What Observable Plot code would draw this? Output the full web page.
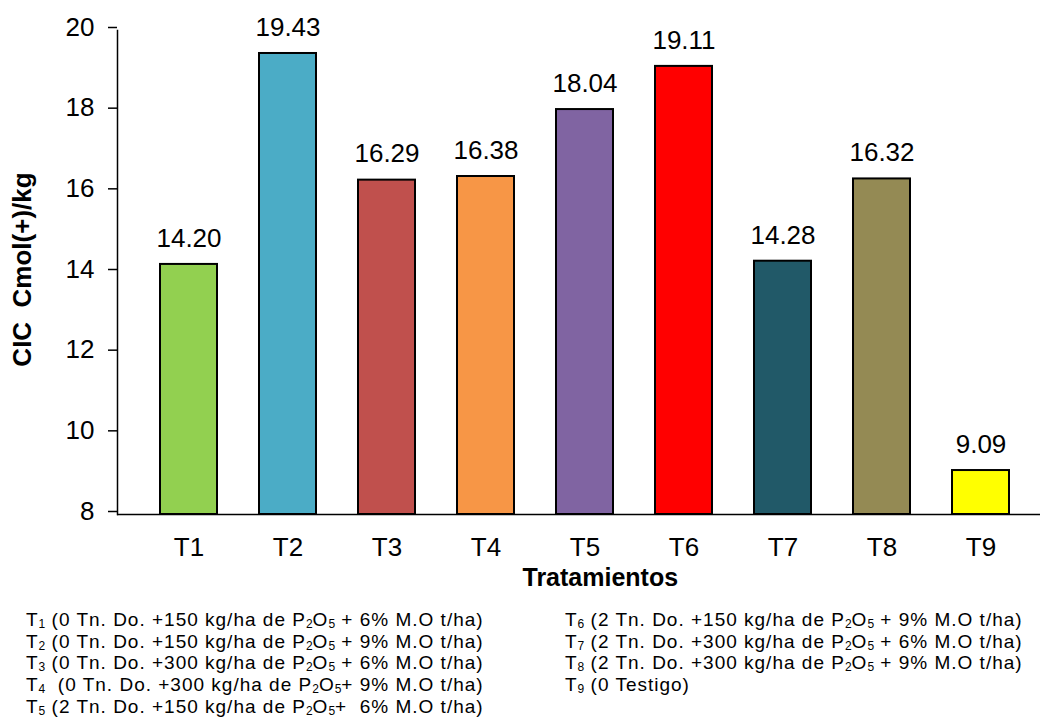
<!DOCTYPE html>
<html>
<head>
<meta charset="utf-8">
<script src="https://cdn.jsdelivr.net/npm/d3@7"></script>
<script src="https://cdn.jsdelivr.net/npm/@observablehq/plot@0.6"></script>
<style>
  body { margin: 0; background: #fff; font-family: "Liberation Sans", Arial, sans-serif; }
  #chart svg, #legend svg { display: block; }
</style>
</head>
<body>
<div id="chart"></div>
<div id="legend"></div>
<script>
const categories = ["T1","T2","T3","T4","T5","T6","T7","T8","T9"];
const values = [14.20, 19.43, 16.29, 16.38, 18.04, 19.11, 14.28, 16.32, 9.09];
const colors = ["#92d050","#4bacc6","#c0504d","#f79646","#8064a2","#ff0000","#215968","#948a54","#ffff00"];
const yTicks = [8, 10, 12, 14, 16, 18, 20];
const yLabel = "CIC\u00a0 Cmol(+)/kg";
const xLabel = "Tratamientos";
const legendLeft = [
  "T_1 (0 Tn. Do. +150 kg/ha de P_2O_5 + 6% M.O t/ha)",
  "T_2 (0 Tn. Do. +150 kg/ha de P_2O_5 + 9% M.O t/ha)",
  "T_3 (0 Tn. Do. +300 kg/ha de P_2O_5 + 6% M.O t/ha)",
  "T_4  (0 Tn. Do. +300 kg/ha de P_2O_5+ 9% M.O t/ha)",
  "T_5 (2 Tn. Do. +150 kg/ha de P_2O_5+  6% M.O t/ha)"
];
const legendRight = [
  "T_6 (2 Tn. Do. +150 kg/ha de P_2O_5 + 9% M.O t/ha)",
  "T_7 (2 Tn. Do. +300 kg/ha de P_2O_5 + 6% M.O t/ha)",
  "T_8 (2 Tn. Do. +300 kg/ha de P_2O_5 + 9% M.O t/ha)",
  "T_9 (0 Testigo)"
];

const data = categories.map((t, i) => ({t, v: values[i], c: colors[i]}));

const chart = Plot.plot({
  width: 1040,
  height: 600,
  marginLeft: 117,
  marginRight: 0,
  marginTop: 30,
  marginBottom: 86,
  style: {fontFamily: "Liberation Sans, Arial, sans-serif", color: "#000", overflow: "hidden"},
  x: {domain: categories, range: [118, 1051], padding: 0.42, axis: null},
  y: {domain: [8, 20], axis: null},
  marks: [
    Plot.barY(data, {x: "t", y1: 8, y2: "v", fill: "c", stroke: "#000", strokeWidth: 2}),
    Plot.ruleY([8], {stroke: "#000", strokeWidth: 1.5}),
    Plot.frame({anchor: "left", stroke: "#000", strokeWidth: 1.5}),
    Plot.axisY({ticks: yTicks, tickSize: 9, tickPadding: 14, fontSize: 26, dy: -3, tickFormat: d => d, strokeWidth: 1.5, label: null}),
    Plot.axisX({tickSize: 0, tickPadding: 23, fontSize: 26, label: null}),
    Plot.text(data, {x: "t", y: "v", text: d => d.v.toFixed(2), dy: -26, fontSize: 26, fill: "#000"}),
    Plot.text([xLabel], {frameAnchor: "bottom", dx: -56.5, dy: 71, textAnchor: "start", fontSize: 25, fontWeight: "bold", fill: "#000"}),
    Plot.text([yLabel], {frameAnchor: "left", dx: -95, dy: -3, rotate: -90, textAnchor: "middle", fontSize: 26, fontWeight: "bold", fill: "#000"})
  ]
});
document.getElementById("chart").appendChild(chart);

// Legend: one SVG text element per line, subscripts as shifted tspans
const svg = d3.select("#legend").append("svg")
  .attr("width", 1040).attr("height", 126)
  .style("font-family", "Liberation Sans, Arial, sans-serif")
  .style("font-size", "19px")
  .style("letter-spacing", "1px");

function addLine(str, x, y) {
  const t = svg.append("text").attr("x", x).attr("y", y).attr("fill", "#000")
    .attr("xml:space", "preserve").style("white-space", "pre");
  const parts = str.split(/(_\d)/).filter(p => p.length);
  let shifted = false;
  parts.forEach(p => {
    if (p[0] === "_") {
      t.append("tspan").attr("dy", shifted ? 0 : 2).style("font-size", "12px").style("letter-spacing", "0px").text(p.slice(1));
      shifted = true;
    } else {
      t.append("tspan").attr("dy", shifted ? -2 : 0).text(p);
      shifted = false;
    }
  });
}
legendLeft.forEach((s, i) => addLine(s, 26, 25.8 + i * 21.7));
legendRight.forEach((s, i) => addLine(s, 565, 25.8 + i * 21.7));
</script>
</body>
</html>
